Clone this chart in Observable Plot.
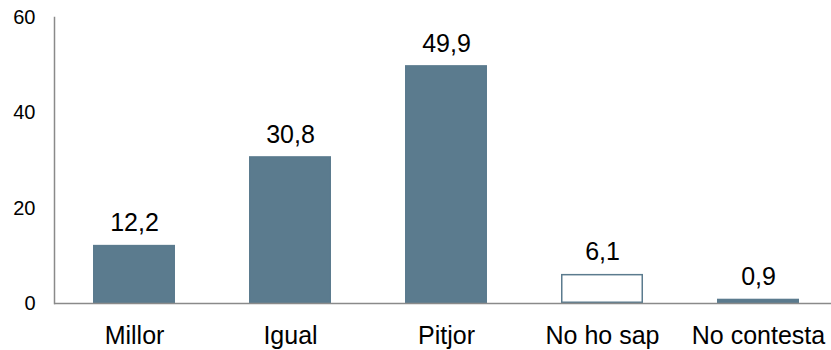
<!DOCTYPE html>
<html><head><meta charset="utf-8">
<script src="https://cdn.jsdelivr.net/npm/d3@7"></script>
<script src="https://cdn.jsdelivr.net/npm/@observablehq/plot@0.6"></script>
<style>html,body{margin:0;padding:0;background:#fff;} #chart svg{display:block}</style>
</head><body><div id="chart"></div>
<script>
const categories = ["Millor", "Igual", "Pitjor", "No ho sap", "No contesta"];
const values = [12.2, 30.8, 49.9, 6.1, 0.9];
const yTicks = [0, 20, 40, 60];
const outlined = ["No ho sap"];

const data = categories.map((c, i) => ({category: c, value: values[i]}));
const fmt = v => d3.format(".1f")(v).replace(".", ",");
const barColor = "#5b7b8e";
const axisColor = "#8a8a8a";

const chart = Plot.plot({
  width: 831, height: 350,
  marginLeft: 54, marginRight: 0, marginTop: 17, marginBottom: 47,
  style: {fontFamily: "'Liberation Sans', Arial, sans-serif", background: "#fff", color: "#000", overflow: "visible"},
  x: {domain: categories, range: [53, 838], paddingInner: 0.475, paddingOuter: 0.25, label: null},
  y: {domain: [0, 60], ticks: yTicks, label: null},
  marks: [
    Plot.barY(data, {
      x: "category", y: "value",
      fill: d => outlined.includes(d.category) ? "#ffffff" : barColor,
      stroke: barColor, strokeWidth: 1.5, inset: 0.75
    }),
    Plot.ruleY([0], {stroke: axisColor, strokeWidth: 1.5}),
    Plot.frame({anchor: "left", stroke: axisColor, strokeWidth: 1.5}),
    Plot.axisY({ticks: yTicks, tickSize: 0, tickPadding: 19, fontSize: 20, label: null, tickFormat: d => String(d)}),
    Plot.axisX({tickSize: 0, tickPadding: 23, fontSize: 25, label: null}),
    Plot.text(data, {x: "category", y: "value", text: d => fmt(d.value), lineAnchor: "bottom", dy: -14, fontSize: 25, fill: "#000"})
  ]
});
document.getElementById("chart").append(chart);
</script>
</body></html>
